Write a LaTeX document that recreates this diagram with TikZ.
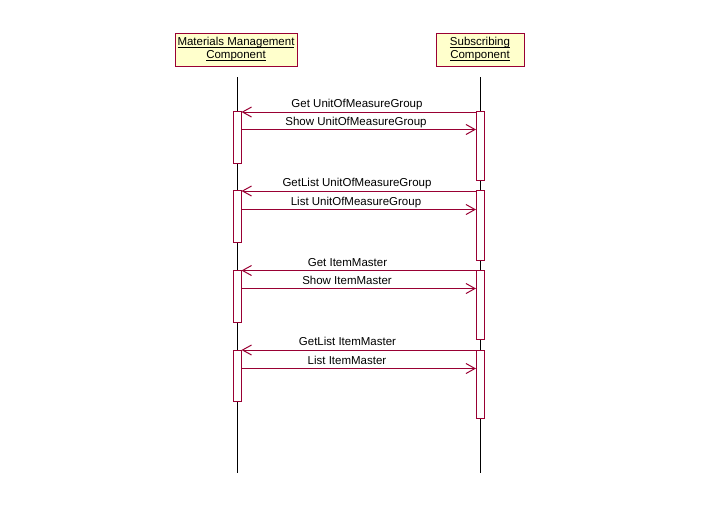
\documentclass[tikz,border=0pt]{standalone}
\usepackage{amsmath}
\usepackage{fontspec}
\setmainfont{Liberation Sans}
\usepackage{tikz}
\usetikzlibrary{arrows.meta}
\definecolor{UmlRed}{RGB}{153, 0, 51}
\definecolor{UmlYellow}{RGB}{255, 255, 204}
\newcommand{\headtext}[1]{\underline{\smash[b]{#1}}}
\tikzset{%
  head/.style={%
    rectangle,
    minimum height=33pt,
    inner sep=0pt,
    draw=UmlRed,
    fill=UmlYellow,
    line width=1pt,
    font={\fontsize{11.5}{13}\selectfont},
    align=center%
  },
  activation/.style={%
    rectangle,
    anchor=north,
    minimum width=8pt,
    inner sep=0pt,
    draw=UmlRed,
    fill=white,
    line width=1pt%
  },
  msglabel/.style={%
    anchor=south,
    inner sep=0pt,
    text depth=4pt,
    font={\fontsize{11.5}{13}\selectfont},
  },
  lifeline/.style={%
    color=black,
    line width=1pt%
  },
  message/.style={%
    color=UmlRed,
    line width=1pt%
  },
  arrow/.style={-{Straight Barb[length=9pt, width=10pt, line width=1pt]}}
}
\begin{document}
\begin{tikzpicture}[x=1pt, y=-1pt]
    \useasboundingbox (0, 0) rectangle (702, 525);

    \node [head, minimum width=122pt] (MatHead) at (236, 49.5)
      {\headtext{Materials Management}\\\headtext{Component}};
    \node [head, minimum width=88pt] (SubHead) at (480, 49.5)
      {\headtext{Subscribing}\\\headtext{Component}};

    \coordinate (MatTop) at (237, 77);
    \coordinate (MatEnd) at (237, 473);
    \coordinate (SubTop) at (480.5, 77);
    \coordinate (SubEnd) at (480.5, 473);

    \draw [lifeline] (MatTop) -- (MatEnd);
    \draw [lifeline] (SubTop) -- (SubEnd);

    \node [activation, minimum height=52pt] (MatAct1) at (237, 111) {};
    \node [activation, minimum height=69pt] (SubAct1) at (480.5, 111) {};
    \node [activation, minimum height=52pt] (MatAct2) at (237, 190) {};
    \node [activation, minimum height=70pt] (SubAct2) at (480.5, 190) {};
    \node [activation, minimum height=52pt] (MatAct3) at (237, 270) {};
    \node [activation, minimum height=69pt] (SubAct3) at (480.5, 270) {};
    \node [activation, minimum height=51pt] (MatAct4) at (237, 350) {};
    \node [activation, minimum height=68pt] (SubAct4) at (480.5, 350) {};

    \node [msglabel] (GetUom) at (357, 112) {Get UnitOfMeasureGroup};
    \node [msglabel] (ShowUom) at (356, 129.5) {Show UnitOfMeasureGroup};
    \node [msglabel] (GetListUom) at (357, 191) {GetList UnitOfMeasureGroup};
    \node [msglabel] (ListUom) at (356, 209.5) {List UnitOfMeasureGroup};
    \node [msglabel] (GetItem) at (347.5, 270.5) {Get ItemMaster};
    \node [msglabel] (ShowItem) at (347, 288.5) {Show ItemMaster};
    \node [msglabel] (GetListItem) at (347.5, 350) {GetList ItemMaster};
    \node [msglabel] (ListItem) at (347, 368.5) {List ItemMaster};

    \draw [arrow, message]
      (SubAct1.west |- GetUom.south) -- (MatAct1.east |- GetUom.south);
    \draw [arrow, message]
      (MatAct1.east |- ShowUom.south) -- (SubAct1.west |- ShowUom.south);
    \draw [arrow, message]
      (SubAct2.west |- GetListUom.south) -- (MatAct2.east |- GetListUom.south);
    \draw [arrow, message]
      (MatAct2.east |- ListUom.south) -- (SubAct2.west |- ListUom.south);
    \draw [arrow, message]
      (SubAct3.west |- GetItem.south) -- (MatAct3.east |- GetItem.south);
    \draw [arrow, message]
      (MatAct3.east |- ShowItem.south) -- (SubAct3.west |- ShowItem.south);
    \draw [arrow, message]
      (SubAct4.west |- GetListItem.south) -- (MatAct4.east |- GetListItem.south);
    \draw [arrow, message]
      (MatAct4.east |- ListItem.south) -- (SubAct4.west |- ListItem.south);
  \end{tikzpicture}
\end{document}
